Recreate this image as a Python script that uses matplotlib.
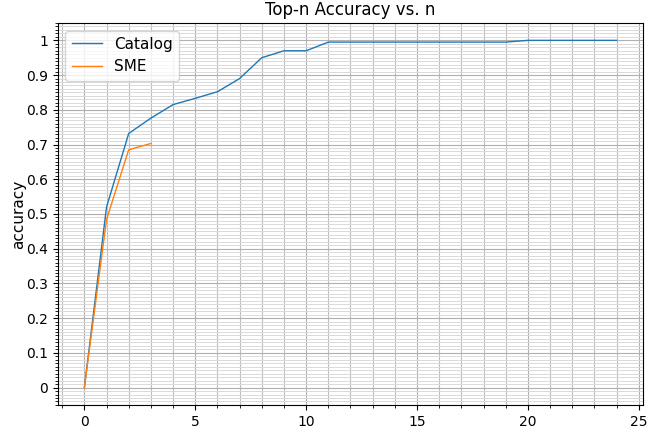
import matplotlib
matplotlib.use("Agg")
import matplotlib.pyplot as plt
from matplotlib.ticker import MultipleLocator

# Dados
n_catalog = list(range(25))
acc_catalog = [0.0, 0.52, 0.732, 0.776, 0.815, 0.833, 0.852, 0.89, 0.95, 0.97,
               0.97, 0.995, 0.995, 0.995, 0.995, 0.995, 0.995, 0.995, 0.995, 0.995,
               1.0, 1.0, 1.0, 1.0, 1.0]
n_sme = [0, 1, 2, 3]
acc_sme = [0.0, 0.484, 0.685, 0.703]

fig = plt.figure(figsize=(6.49, 4.34), dpi=100)
ax = fig.add_axes([0.089, 0.067, 0.902, 0.880])

ax.plot(n_catalog, acc_catalog, label="Catalog", linewidth=1)
ax.plot(n_sme, acc_sme, label="SME", linewidth=1)

ax.set_title("Top-n Accuracy vs. n")
ax.set_xlabel("n", fontsize=11)
ax.set_ylabel("accuracy", fontsize=11, labelpad=0)

ax.xaxis.set_major_locator(MultipleLocator(5))
ax.xaxis.set_minor_locator(MultipleLocator(1))
ax.yaxis.set_minor_locator(MultipleLocator(0.01))
ax.set_yticks([i / 10 for i in range(11)])
ax.set_yticklabels(["0", "0.1", "0.2", "0.3", "0.4", "0.5", "0.6", "0.7", "0.8", "0.9", "1"])

# grade principal e secundária
ax.grid(which="major", color="#b0b0b0", linewidth=0.8)
ax.xaxis.grid(which="minor", color="#bdbdbd", linewidth=0.8)
ax.yaxis.grid(which="minor", color="#dadada", linewidth=0.7)
ax.legend(loc="upper left", fontsize=11)

plt.savefig("out.png", dpi=100)
